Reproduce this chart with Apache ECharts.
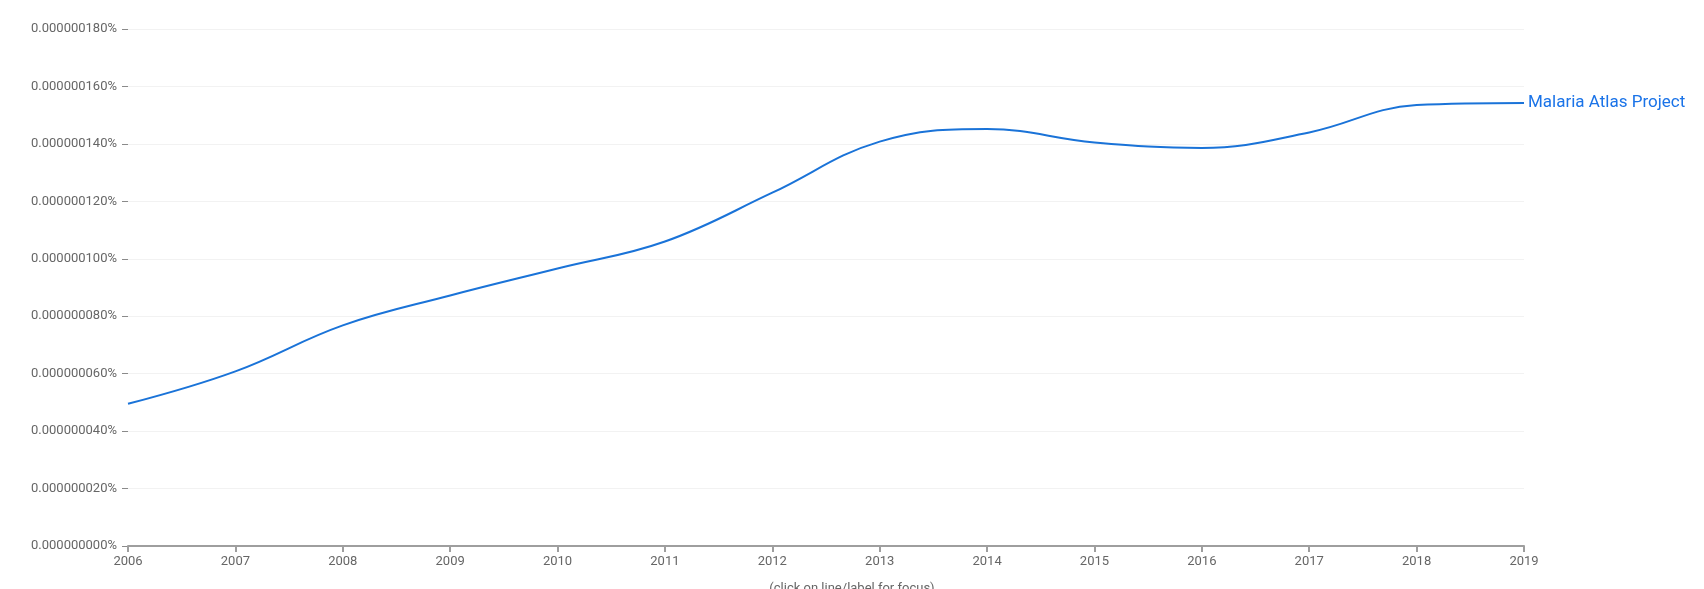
<!DOCTYPE html>
<html>
<head>
<meta charset="utf-8">
<script src="https://cdn.jsdelivr.net/npm/echarts@6/dist/echarts.min.js"></script>
<style>
html,body{margin:0;padding:0;background:#fff;}
#chart{width:1704px;height:589px;}
</style>
</head>
<body>
<div id="chart"></div>
<script>
const years = ['2006','2007','2008','2009','2010','2011','2012','2013','2014','2015','2016','2017','2018','2019'];
const seriesName = 'Malaria Atlas Project';
const values = [0.0000000495, 0.0000000608, 0.0000000768, 0.0000000872, 0.0000000966, 0.0000001060, 0.0000001230, 0.0000001408, 0.0000001452, 0.0000001405, 0.0000001386, 0.0000001440, 0.0000001535, 0.0000001542];
const yMin = 0, yMax = 0.00000018, yStep = 0.00000002;
const footnote = '(click on line/label for focus)';

const chart = echarts.init(document.getElementById('chart'));
chart.setOption({
  animation: false,
  textStyle: { fontFamily: 'Roboto, sans-serif' },
  grid: { left: 128, right: 180, top: 29, bottom: 43 },
  xAxis: {
    type: 'category',
    data: years,
    boundaryGap: false,
    axisLine: { show: true, lineStyle: { color: '#9e9e9e', width: 2 } },
    axisTick: { show: true, length: 6, lineStyle: { color: '#9e9e9e', width: 2 } },
    axisLabel: { color: '#666666', fontSize: 13, margin: 9 },
    splitLine: { show: false }
  },
  yAxis: {
    type: 'value',
    min: yMin, max: yMax, interval: yStep,
    axisLine: { show: false },
    axisTick: { show: true, length: 6, lineStyle: { color: '#8a8a8a', width: 1 } },
    axisLabel: { color: '#666666', fontSize: 13, margin: 11,
      formatter: v => v.toFixed(9) + '%' },
    splitLine: { show: true, lineStyle: { color: '#f2f2f2', width: 1 } }
  },
  graphic: [{
    type: 'text', left: 'center', top: 582,
    style: { text: footnote, fill: '#666666', font: '13px Roboto, sans-serif' }
  }],
  series: [{
    name: seriesName,
    type: 'line',
    data: values,
    smooth: 0.4,
    symbol: 'none',
    lineStyle: { color: '#1a73d8', width: 2 },
    endLabel: { show: true, formatter: seriesName, color: '#1a73e8', fontSize: 17, distance: 4 }
  }]
});
</script>
</body>
</html>
